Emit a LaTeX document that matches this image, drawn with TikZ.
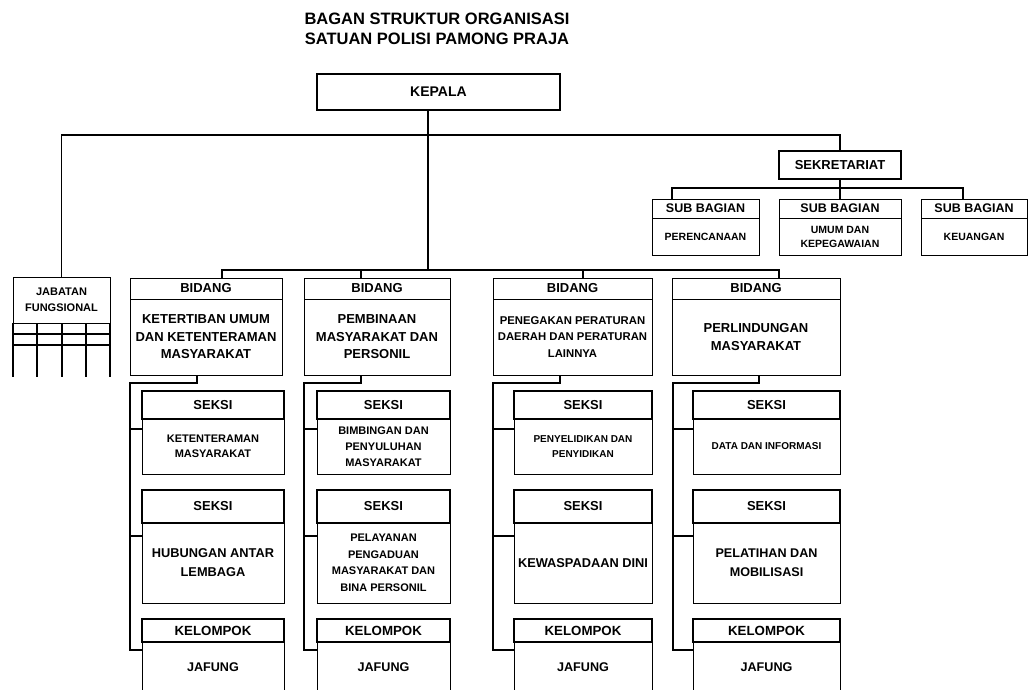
\documentclass[tikz,border=0pt]{standalone}
\usepackage{fontspec}
\setmainfont{Liberation Sans}
\usetikzlibrary{positioning}

\begin{document}
\begin{tikzpicture}[
    x=1pt, y=-1pt,
    every node/.style={font=\bfseries\fontsize{13}{17.5}\selectfont, inner sep=0pt, outer sep=0pt, align=center},
    hd/.style={draw, line width=1.6pt},
    bd/.style={draw, line width=1pt},
    ln/.style={line width=1.1pt},
    fm/.style={font=\bfseries\fontsize{11}{15.5}\selectfont},
    fs/.style={font=\bfseries\fontsize{10}{14.5}\selectfont}
  ]
  \path[use as bounding box, clip] (0,0) rectangle (1028,689);

  % title and head
  \node[font=\bfseries\fontsize{16.5}{20}\selectfont] (title) at (437,28.5) {BAGAN STRUKTUR ORGANISASI\\SATUAN POLISI PAMONG PRAJA};
  \node[draw, line width=2pt, minimum width=243pt, minimum height=36pt, font=\bfseries\fontsize{14}{17}\selectfont] (kepala) at (438.5,92) {KEPALA};

  % sekretariat
  \node[draw, line width=1.4pt, minimum width=122pt, minimum height=28pt] (sekr) at (840,165) {SEKRETARIAT};
  \node[bd, minimum width=107pt, minimum height=19pt, font=\bfseries\fontsize{12.5}{15}\selectfont] (sb1h) at (705.5,208.5) {SUB BAGIAN};
  \node[bd, minimum width=107pt, minimum height=37pt, font=\bfseries\fontsize{10.5}{14}\selectfont, below=0pt of sb1h] (sb1b) {PERENCANAAN};
  \node[bd, minimum width=122pt, minimum height=19pt, font=\bfseries\fontsize{12.5}{15}\selectfont] (sb2h) at (840,208.5) {SUB BAGIAN};
  \node[bd, minimum width=122pt, minimum height=37pt, font=\bfseries\fontsize{10.5}{14}\selectfont, below=0pt of sb2h] (sb2b) {UMUM DAN\\KEPEGAWAIAN};
  \node[bd, minimum width=106pt, minimum height=19pt, font=\bfseries\fontsize{12.5}{15}\selectfont] (sb3h) at (974,208.5) {SUB BAGIAN};
  \node[bd, minimum width=106pt, minimum height=37pt, font=\bfseries\fontsize{10.5}{14}\selectfont, below=0pt of sb3h] (sb3b) {KEUANGAN};

  % jabatan fungsional
  \node[bd, minimum width=97pt, minimum height=46pt, fm] (jab) at (61.5,300) {JABATAN\\FUNGSIONAL};
  \draw[ln] (jab.south west) -- ++(0,54);
  \draw[ln] (jab.south east) -- ++(0,54);
  \draw[ln] (37,323) -- (37,377);
  \draw[ln] (62,323) -- (62,377);
  \draw[ln] (86,323) -- (86,377);
  \draw[ln] (13,334) -- (110,334);
  \draw[line width=1.8pt] (13,345) -- (110,345);

  % bidang
  \node[bd, minimum width=152pt, minimum height=21pt] (b1h) at (206,288.5) {BIDANG};
  \node[bd, minimum width=152pt, minimum height=76pt, below=0pt of b1h] (b1b) {KETERTIBAN UMUM\\DAN KETENTERAMAN\\MASYARAKAT};
  \node[bd, minimum width=146pt, minimum height=21pt] (b2h) at (377,288.5) {BIDANG};
  \node[bd, minimum width=146pt, minimum height=76pt, below=0pt of b2h] (b2b) {PEMBINAAN\\MASYARAKAT DAN\\PERSONIL};
  \node[bd, minimum width=159pt, minimum height=21pt] (b3h) at (572.5,288.5) {BIDANG};
  \node[bd, minimum width=159pt, minimum height=76pt, font=\bfseries\fontsize{11.3}{16.5}\selectfont, below=0pt of b3h] (b3b) {PENEGAKAN PERATURAN\\DAERAH DAN PERATURAN\\LAINNYA};
  \node[bd, minimum width=168pt, minimum height=21pt] (b4h) at (756,288.5) {BIDANG};
  \node[bd, minimum width=168pt, minimum height=76pt, below=0pt of b4h] (b4b) {PERLINDUNGAN\\MASYARAKAT};

  % seksi, column 1
  \node[hd, minimum width=142pt, minimum height=28pt] (s11h) at (213,405) {SEKSI};
  \node[bd, minimum width=142pt, minimum height=55pt, fm, below=0pt of s11h] (s11b) {KETENTERAMAN\\MASYARAKAT};
  \node[hd, minimum width=142pt, minimum height=33pt] (s12h) at (213,506.5) {SEKSI};
  \node[bd, minimum width=142pt, minimum height=80pt, font=\bfseries\fontsize{12.8}{19}\selectfont, below=0pt of s12h] (s12b) {HUBUNGAN ANTAR\\LEMBAGA};
  \node[hd, minimum width=142pt, minimum height=23pt, font=\bfseries\fontsize{13.3}{16}\selectfont] (k1h) at (213,630.5) {KELOMPOK};
  \node[bd, minimum width=142pt, minimum height=50pt, font=\bfseries\fontsize{12.6}{15}\selectfont, below=0pt of k1h] (k1b) {JAFUNG};

  % seksi, column 2
  \node[hd, minimum width=133pt, minimum height=28pt] (s21h) at (383.5,405) {SEKSI};
  \node[bd, minimum width=133pt, minimum height=55pt, font=\bfseries\fontsize{11}{16}\selectfont, below=0pt of s21h] (s21b) {BIMBINGAN DAN\\PENYULUHAN\\MASYARAKAT};
  \node[hd, minimum width=133pt, minimum height=33pt] (s22h) at (383.5,506.5) {SEKSI};
  \node[bd, minimum width=133pt, minimum height=80pt, font=\bfseries\fontsize{11}{16.5}\selectfont, below=0pt of s22h] (s22b) {PELAYANAN\\PENGADUAN\\MASYARAKAT DAN\\BINA PERSONIL};
  \node[hd, minimum width=133pt, minimum height=23pt, font=\bfseries\fontsize{13.3}{16}\selectfont] (k2h) at (383.5,630.5) {KELOMPOK};
  \node[bd, minimum width=133pt, minimum height=50pt, font=\bfseries\fontsize{12.6}{15}\selectfont, below=0pt of k2h] (k2b) {JAFUNG};

  % seksi, column 3
  \node[hd, minimum width=138pt, minimum height=28pt] (s31h) at (583,405) {SEKSI};
  \node[bd, minimum width=138pt, minimum height=55pt, fs, below=0pt of s31h] (s31b) {PENYELIDIKAN DAN\\PENYIDIKAN};
  \node[hd, minimum width=138pt, minimum height=33pt] (s32h) at (583,506.5) {SEKSI};
  \node[bd, minimum width=138pt, minimum height=80pt, font=\bfseries\fontsize{12.8}{19}\selectfont, below=0pt of s32h] (s32b) {KEWASPADAAN DINI};
  \node[hd, minimum width=138pt, minimum height=23pt, font=\bfseries\fontsize{13.3}{16}\selectfont] (k3h) at (583,630.5) {KELOMPOK};
  \node[bd, minimum width=138pt, minimum height=50pt, font=\bfseries\fontsize{12.6}{15}\selectfont, below=0pt of k3h] (k3b) {JAFUNG};

  % seksi, column 4
  \node[hd, minimum width=147pt, minimum height=28pt] (s41h) at (766.5,405) {SEKSI};
  \node[bd, minimum width=147pt, minimum height=55pt, fs, below=0pt of s41h] (s41b) {DATA DAN INFORMASI};
  \node[hd, minimum width=147pt, minimum height=33pt] (s42h) at (766.5,506.5) {SEKSI};
  \node[bd, minimum width=147pt, minimum height=80pt, font=\bfseries\fontsize{12.6}{19}\selectfont, below=0pt of s42h] (s42b) {PELATIHAN DAN\\MOBILISASI};
  \node[hd, minimum width=147pt, minimum height=23pt, font=\bfseries\fontsize{13.3}{16}\selectfont] (k4h) at (766.5,630.5) {KELOMPOK};
  \node[bd, minimum width=147pt, minimum height=50pt, font=\bfseries\fontsize{12.6}{15}\selectfont, below=0pt of k4h] (k4b) {JAFUNG};

  % connectors
  \coordinate (mainbus) at (428,135);
  \coordinate (trunk) at (428,270);
  \coordinate (sbbus) at (840,188);
  \draw[ln] (jab.north) |- (mainbus) -| (sekr.north);
  \draw[ln] (kepala.south -| trunk) -- (trunk);
  \draw[ln] (sekr.south) -- (sb2h.north);
  \draw[ln] ([xshift=-33.5pt]sb1h.north) |- (sbbus) -| ([xshift=-11pt]sb3h.north);
  \draw[ln] ([xshift=16pt]b1h.north) |- (trunk) -| ([xshift=23pt]b4h.north);
  \draw[ln] ([xshift=-16pt]b2h.north) |- (trunk);
  \draw[ln] ([xshift=10.5pt]b3h.north) |- (trunk);

  \draw[ln] ([xshift=-9pt]b1b.south) |- ++(-67,8) |- ([yshift=-8pt]k1b.north west);
  \draw[ln] ([yshift=-10pt]s11b.north west) -- ++(-12,0);
  \draw[ln] ([yshift=-13pt]s12b.north west) -- ++(-12,0);
  \draw[ln] ([xshift=-16pt]b2b.south) |- ++(-57,8) |- ([yshift=-8pt]k2b.north west);
  \draw[ln] ([yshift=-10pt]s21b.north west) -- ++(-13,0);
  \draw[ln] ([yshift=-13pt]s22b.north west) -- ++(-13,0);
  \draw[ln] ([xshift=-12.5pt]b3b.south) |- ++(-67,8) |- ([yshift=-8pt]k3b.north west);
  \draw[ln] ([yshift=-10pt]s31b.north west) -- ++(-21,0);
  \draw[ln] ([yshift=-13pt]s32b.north west) -- ++(-21,0);
  \draw[ln] ([xshift=3pt]b4b.south) |- ++(-86,8) |- ([yshift=-8pt]k4b.north west);
  \draw[ln] ([yshift=-10pt]s41b.north west) -- ++(-20,0);
  \draw[ln] ([yshift=-13pt]s42b.north west) -- ++(-20,0);
\end{tikzpicture}
\end{document}
